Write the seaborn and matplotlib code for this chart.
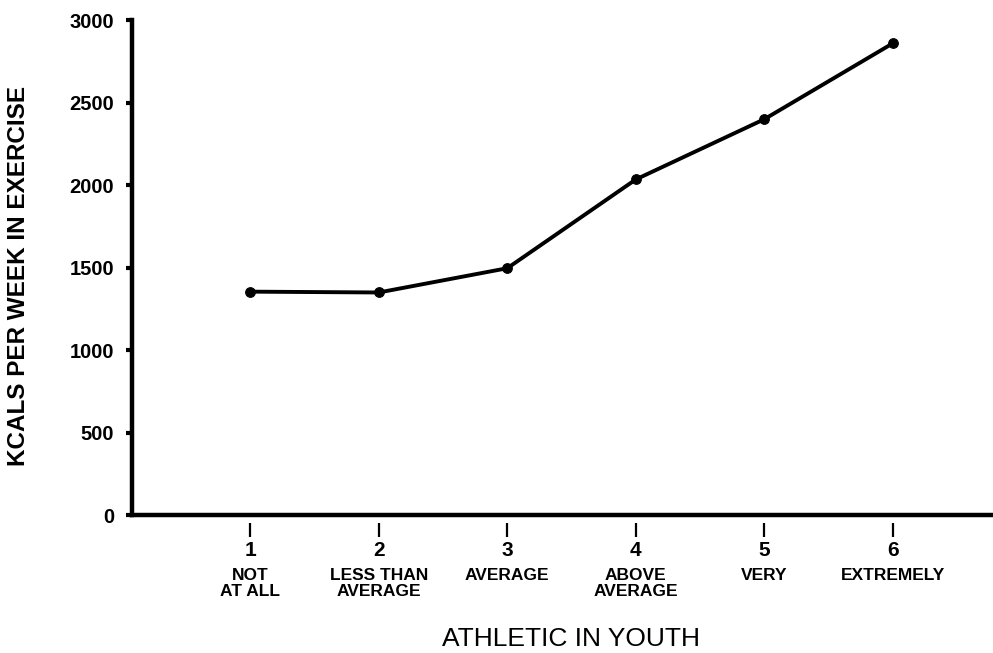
import numpy as np
import pandas as pd
import matplotlib
matplotlib.use("Agg")
import matplotlib.pyplot as plt
import seaborn as sns

# values
athletic_level = [1, 2, 3, 4, 5, 6]
level_names = ["NOT\nAT ALL", "LESS THAN\nAVERAGE", "AVERAGE",
               "ABOVE\nAVERAGE", "VERY", "EXTREMELY"]
kcals_per_week = [1355, 1350, 1497, 2035, 2400, 2860]
y_ticks = [0, 500, 1000, 1500, 2000, 2500, 3000]

df = pd.DataFrame({"level": athletic_level, "kcals": kcals_per_week})

sns.set_style("ticks")
plt.rcParams["font.family"] = ["Liberation Sans", "DejaVu Sans"]
plt.rcParams.update({"text.color": "black", "axes.labelcolor": "black",
                     "xtick.color": "black", "ytick.color": "black"})

fig = plt.figure(figsize=(9.93, 6.53), dpi=100)
ax = fig.add_axes([0.133, 0.211, 0.867, 0.758])

sns.lineplot(data=df, x="level", y="kcals", ax=ax, color="black",
             linewidth=2.8, marker="o", markersize=7,
             markeredgecolor="black", markerfacecolor="black")

ax.set_xlim(0.08, 6.78)
ax.set_ylim(0, 3000)
sns.despine(ax=ax)
for side in ["left", "bottom"]:
    ax.spines[side].set_linewidth(3.2)
    ax.spines[side].set_color("black")

ax.set_yticks(y_ticks)
ax.set_yticklabels([str(v) for v in y_ticks], fontsize=14.5, fontweight="bold")
ax.tick_params(axis="y", length=4, width=3, pad=9)

# x ticks sit a little below the axis line, as in the original
ax.set_xticks([])
gap = -8 / 495
nums = ax.secondary_xaxis(gap)
nums.set_xticks(athletic_level)
nums.set_xticklabels([str(v) for v in athletic_level], fontsize=15, fontweight="bold")
nums.tick_params(length=10, width=1.6, pad=3)
nums.spines["bottom"].set_visible(False)

cats = ax.secondary_xaxis(gap)
cats.set_xticks(athletic_level)
cats.set_xticklabels(level_names, fontsize=12.5, fontweight="bold", linespacing=1.1)
cats.tick_params(length=0, pad=32)
cats.spines["bottom"].set_visible(False)

ax.set_xlabel("ATHLETIC IN YOUTH", fontsize=19)
ax.xaxis.set_label_coords(0.51, -0.225)
ax.set_ylabel("KCALS PER WEEK IN EXERCISE", fontsize=17.5, fontweight="bold")
ax.yaxis.set_label_coords(-0.118, 0.483)

fig.savefig("out.png", dpi=100)
